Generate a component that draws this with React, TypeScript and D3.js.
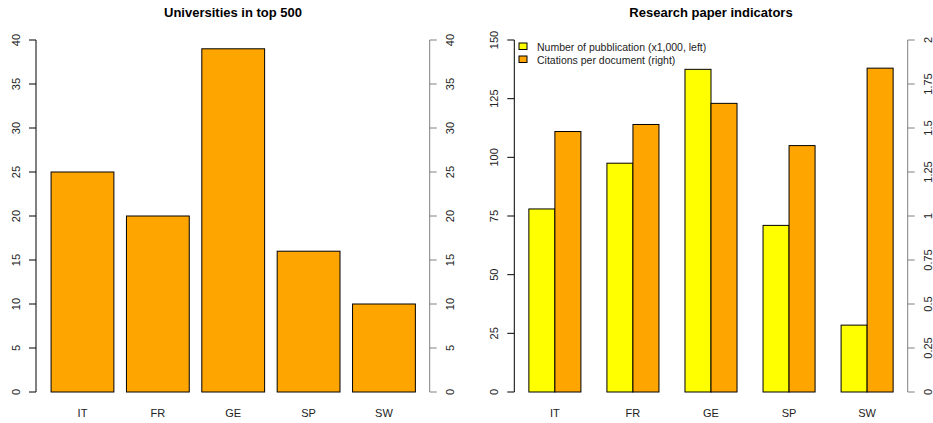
import React from "react";
import * as d3 from "d3";

const categories = ["IT", "FR", "GE", "SP", "SW"];
const universities = [25, 20, 39, 16, 10];
const publications = [78, 97.5, 137.5, 71, 28.5];
const citations = [1.48, 1.52, 1.64, 1.4, 1.84];
const uniTicks = [0, 5, 10, 15, 20, 25, 30, 35, 40];
const pubTicks = [0, 25, 50, 75, 100, 125, 150];
const citTicks = [0, 0.25, 0.5, 0.75, 1, 1.25, 1.5, 1.75, 2];
const legendLabels = ["Number of pubblication (x1,000, left)", "Citations per document (right)"];
const titles = ["Universities in top 500", "Research paper indicators"];

const FONT = "'Liberation Sans', Arial, Helvetica, sans-serif";
const ORANGE = "#FFA500";
const YELLOW = "#FFFF00";
const GRAY = "#808080";

function VAxis({ x, scale, ticks, side, color, fmt }: any) {
  const [y0, y1] = [scale(ticks[0]), scale(ticks[ticks.length - 1])];
  const dir = side === "left" ? -1 : 1;
  const labelX = x + dir * 20;
  return (
    <g>
      <line x1={x} x2={x} y1={y0} y2={y1} stroke={color} strokeWidth={1} />
      {ticks.map((t: number) => (
        <g key={t}>
          <line x1={x} x2={x + dir * 7} y1={scale(t)} y2={scale(t)} stroke={color} strokeWidth={1} />
          <text
            transform={`translate(${labelX},${scale(t)}) rotate(-90)`}
            textAnchor="middle"
            dominantBaseline="central"
            fontSize={11}
            fontFamily={FONT}
            fill="#222"
          >
            {fmt ? fmt(t) : String(t)}
          </text>
        </g>
      ))}
    </g>
  );
}

export default function App() {
  // Left panel scales
  const xL = d3.scaleLinear().domain([-0.04, 6.44]).range([36, 443]);
  const yL = d3.scaleLinear().domain([0, 40]).range([392, 40]);
  // Right panel scales
  const xR = d3.scaleLinear().domain([0.44, 15.56]).range([514.3, 907.7]);
  const yP = d3.scaleLinear().domain([0, 150]).range([392, 40]);
  const yC = d3.scaleLinear().domain([0, 2]).range([392, 40]);

  return (
    <svg
      width={933}
      height={423}
      style={{ position: "absolute", left: 0, top: 0, background: "#fff" }}
    >
      <rect width={933} height={423} fill="#fff" />
      {/* Left panel */}
      <text x={233} y={17} textAnchor="middle" fontWeight="bold" fontSize={13} fontFamily={FONT} fill="#000">
        {titles[0]}
      </text>
      {universities.map((v, i) => {
        const l = 0.2 + i * 1.2;
        return (
          <rect
            key={i}
            x={xL(l)}
            y={yL(v)}
            width={xL(l + 1) - xL(l)}
            height={yL(0) - yL(v)}
            fill={ORANGE}
            stroke="#000"
            strokeWidth={1}
          />
        );
      })}
      {categories.map((c, i) => (
        <text key={c} x={xL(0.7 + i * 1.2)} y={417} textAnchor="middle" fontSize={11} fontFamily={FONT} fill="#222">
          {c}
        </text>
      ))}
      <VAxis x={36} scale={yL} ticks={uniTicks} side="left" color="#000" />
      <VAxis x={429.7} scale={yL} ticks={uniTicks} side="right" color={GRAY} />

      {/* Right panel */}
      <text x={711} y={17} textAnchor="middle" fontWeight="bold" fontSize={13} fontFamily={FONT} fill="#000">
        {titles[1]}
      </text>
      {categories.map((c, i) => {
        const a = 1 + i * 3;
        return (
          <g key={c}>
            <rect
              x={xR(a)}
              y={yP(publications[i])}
              width={xR(a + 1) - xR(a)}
              height={yP(0) - yP(publications[i])}
              fill={YELLOW}
              stroke="#000"
              strokeWidth={1}
            />
            <rect
              x={xR(a + 1)}
              y={yC(citations[i])}
              width={xR(a + 2) - xR(a + 1)}
              height={yC(0) - yC(citations[i])}
              fill={ORANGE}
              stroke="#000"
              strokeWidth={1}
            />
            <text x={xR(a + 1)} y={417} textAnchor="middle" fontSize={11} fontFamily={FONT} fill="#222">
              {c}
            </text>
          </g>
        );
      })}
      <VAxis x={514.3} scale={yP} ticks={pubTicks} side="left" color="#000" />
      <VAxis x={907.7} scale={yC} ticks={citTicks} side="right" color={GRAY} />

      {/* Legend */}
      {legendLabels.map((lab, i) => (
        <g key={lab}>
          <rect x={519} y={43 + i * 13} width={8} height={6.5} fill={i === 0 ? YELLOW : ORANGE} stroke="#000" strokeWidth={1} />
          <text x={537} y={46.5 + i * 13} dominantBaseline="central" fontSize={10.5} fontFamily={FONT} fill="#222">
            {lab}
          </text>
        </g>
      ))}
    </svg>
  );
}
